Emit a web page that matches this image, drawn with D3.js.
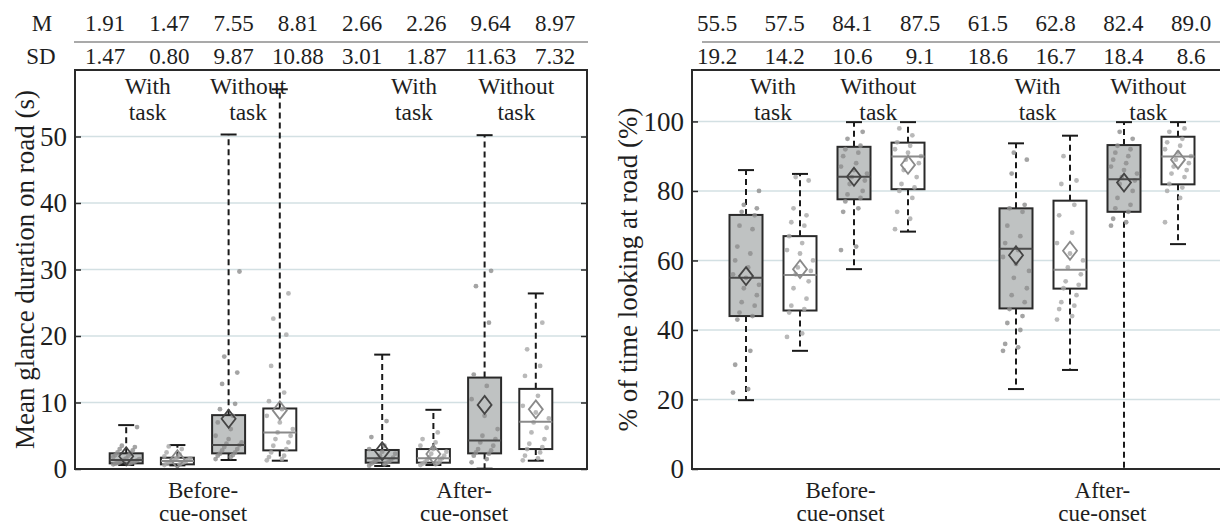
<!DOCTYPE html>
<html>
<head>
<meta charset="utf-8">
<script src="https://cdn.jsdelivr.net/npm/d3@7"></script>
<style>
  body { margin: 0; background: #fff; }
  svg text { font-family: "Liberation Serif", "Times New Roman", serif; fill: #1e1e1e; }
</style>
</head>
<body>
<div id="chart"></div>
<script>
// categories
var phases = [["Before-", "cue-onset"], ["After-", "cue-onset"]];
var conditions = [["With", "task"], ["Without", "task"], ["With", "task"], ["Without", "task"]];
var boxSlots = [1, 2, 3, 4, 6, 7, 8, 9];
var boxKind = ["gray", "white", "gray", "white", "gray", "white", "gray", "white"];

// left panel: mean glance duration on road (s)
var durTicks = [0, 10, 20, 30, 40, 50];
var durMean = [1.91, 1.47, 7.55, 8.81, 2.66, 2.26, 9.64, 8.97];
var durSD = [1.47, 0.80, 9.87, 10.88, 3.01, 1.87, 11.63, 7.32];
var durLow = [0.6, 0.55, 1.35, 1.25, 0.45, 0.6, 0.05, 1.25];
var durQ1 = [0.85, 0.7, 2.35, 2.8, 0.95, 0.95, 2.35, 3.0];
var durMed = [1.35, 1.2, 3.6, 5.5, 1.6, 1.6, 4.3, 7.1];
var durQ3 = [2.36, 1.7, 8.1, 9.1, 2.86, 3.0, 13.75, 12.05];
var durHigh = [6.6, 3.6, 50.3, 57.1, 17.2, 8.9, 50.2, 26.4];
var durDots = [
  [0.7, 0.8, 0.8, 0.9, 0.9, 1.0, 1.0, 1.1, 1.2, 1.3, 1.4, 1.5, 1.6, 1.8, 2.0, 2.1, 2.3, 2.5, 2.8, 3.0, 3.3, 3.5, 6.3],
  [0.6, 0.7, 0.8, 0.9, 1.0, 1.0, 1.1, 1.2, 1.3, 1.4, 1.5, 1.6, 1.7, 1.9, 2.2, 2.5, 3.0, 3.4],
  [1.5, 1.8, 2.0, 2.1, 2.3, 2.5, 2.8, 3.0, 3.3, 3.6, 3.8, 4.0, 4.5, 5.0, 6.0, 7.0, 8.0, 9.0, 9.8, 12.8, 14.5, 16.9, 29.7],
  [1.3, 1.5, 1.8, 2.0, 2.5, 3.0, 3.5, 4.0, 4.5, 5.0, 5.5, 6.0, 7.0, 8.0, 9.0, 10.2, 11.5, 15.5, 20.2, 22.6, 26.4],
  [0.5, 0.7, 0.8, 0.9, 1.0, 1.1, 1.2, 1.3, 1.5, 1.7, 2.0, 2.3, 2.6, 3.0, 3.5, 4.8, 7.2],
  [0.6, 0.7, 0.8, 0.9, 1.0, 1.2, 1.4, 1.6, 1.8, 2.0, 2.3, 2.6, 3.0, 3.5, 4.0, 4.5, 5.5],
  [1.0, 1.5, 2.0, 2.3, 2.5, 2.8, 3.0, 3.5, 4.0, 4.5, 5.0, 6.0, 8.0, 10.5, 12.5, 14.2, 22.0, 27.5, 29.8],
  [1.3, 1.6, 2.0, 2.5, 3.0, 3.3, 3.8, 4.5, 5.5, 6.2, 7.0, 7.6, 8.5, 9.5, 11.0, 14.0, 15.5, 18.0, 22.0]
];

// right panel: % of time looking at road
var pctTicks = [0, 20, 40, 60, 80, 100];
var pctMean = [55.5, 57.5, 84.1, 87.5, 61.5, 62.8, 82.4, 89.0];
var pctSD = [19.2, 14.2, 10.6, 9.1, 18.6, 16.7, 18.4, 8.6];
var pctLow = [19.8, 34.0, 57.5, 68.3, 23.0, 28.5, 0, 64.7];
var pctQ1 = [44.0, 45.6, 77.6, 80.5, 46.2, 51.9, 74.0, 81.9];
var pctMed = [55.0, 55.8, 84.1, 89.9, 63.4, 57.3, 83.4, 89.9];
var pctQ3 = [73.1, 67.0, 92.7, 93.9, 75.0, 77.2, 93.2, 95.6];
var pctHigh = [86.0, 84.9, 99.8, 99.8, 93.7, 95.9, 99.8, 99.8];
var pctDots = [
  [22, 23, 30, 34, 43, 44, 45, 47, 48, 50, 52, 53, 55, 56, 58, 60, 62, 64, 69, 70, 73, 74, 75, 76, 80],
  [38, 39, 45, 46, 47, 49, 52, 54, 56, 57, 58, 60, 62, 63, 65, 67, 70, 71, 73, 75, 83, 84],
  [63, 64, 74, 75, 77, 78, 79, 80, 82, 83, 84, 85, 86, 87, 88, 90, 91, 92, 93, 95, 97],
  [69, 72, 74, 78, 80, 81, 82, 84, 86, 88, 89, 90, 91, 92, 93, 94, 96, 98],
  [34, 35, 36, 40, 42, 44, 46, 48, 50, 52, 55, 57, 59, 61, 63, 65, 67, 70, 74, 75, 76, 85, 89, 91],
  [43, 44, 46, 47, 48, 50, 52, 53, 54, 56, 58, 60, 62, 65, 68, 73, 76, 82, 83, 90],
  [70, 71, 72, 74, 75, 76, 78, 80, 82, 83, 84, 85, 86, 87, 88, 89, 90, 91, 92, 93, 95, 97],
  [71, 78, 80, 81, 82, 84, 85, 86, 87, 88, 89, 90, 91, 92, 93, 94, 95, 97, 98]
];

var width = 1220, height = 527;
var svg = d3.select("#chart").append("svg").attr("width", width).attr("height", height);

function drawPanel(p) {
  var x = d3.scaleLinear().domain([0, 10]).range([p.left, p.right]);
  var y = d3.scaleLinear().domain([0, p.yMax]).range([469, 70]);
  var g = svg.append("g");
  var half = 16.5;

  // table of M and SD
  var col = d3.scaleLinear().domain([0, 7]).range([p.colFirst, p.colLast]);
  g.append("line").attr("x1", p.lineFrom).attr("x2", p.lineTo)
    .attr("y1", 42).attr("y2", 42).attr("stroke", "#8c8c8c").attr("stroke-width", 1.5);
  g.selectAll(".mrow").data(p.mean).join("text")
    .attr("x", function (d, i) { return col(i); }).attr("y", 31)
    .attr("text-anchor", "middle").attr("font-size", "23px")
    .text(function (d) { return p.fmt(d); });
  g.selectAll(".sdrow").data(p.sd).join("text")
    .attr("x", function (d, i) { return col(i); }).attr("y", 64)
    .attr("text-anchor", "middle").attr("font-size", "23px")
    .text(function (d) { return p.fmt(d); });
  if (p.rowLabels) {
    g.append("text").attr("x", 42).attr("y", 31).attr("text-anchor", "middle")
      .attr("font-size", "23px").text("M");
    g.append("text").attr("x", 41).attr("y", 64).attr("text-anchor", "middle")
      .attr("font-size", "23px").text("SD");
  }

  // gridlines
  g.selectAll(".grid").data(p.ticks.filter(function (t) { return t > 0; })).join("line")
    .attr("x1", p.left).attr("x2", p.right)
    .attr("y1", function (d) { return y(d); }).attr("y2", function (d) { return y(d); })
    .attr("stroke", "#d3e0e3").attr("stroke-width", 1.5);

  // whiskers
  var idx = d3.range(8);
  g.selectAll(".wlo").data(idx).join("line")
    .attr("x1", function (i) { return x(boxSlots[i]); }).attr("x2", function (i) { return x(boxSlots[i]); })
    .attr("y1", function (i) { return y(p.q1[i]); }).attr("y2", function (i) { return y(p.low[i]); })
    .attr("stroke", "#1a1a1a").attr("stroke-width", 2).attr("stroke-dasharray", "6,4");
  g.selectAll(".whi").data(idx).join("line")
    .attr("x1", function (i) { return x(boxSlots[i]); }).attr("x2", function (i) { return x(boxSlots[i]); })
    .attr("y1", function (i) { return y(p.q3[i]); }).attr("y2", function (i) { return y(p.high[i]); })
    .attr("stroke", "#1a1a1a").attr("stroke-width", 2).attr("stroke-dasharray", "6,4");
  var caps = idx.map(function (i) { return [i, p.low[i]]; }).concat(idx.map(function (i) { return [i, p.high[i]]; }));
  g.selectAll(".cap").data(caps).join("line")
    .attr("x1", function (d) { return x(boxSlots[d[0]]) - 8; })
    .attr("x2", function (d) { return x(boxSlots[d[0]]) + 8; })
    .attr("y1", function (d) { return y(d[1]); }).attr("y2", function (d) { return y(d[1]); })
    .attr("stroke", "#1a1a1a").attr("stroke-width", 2);

  // boxes
  g.selectAll(".box").data(idx).join("rect")
    .attr("x", function (i) { return x(boxSlots[i]) - half; })
    .attr("width", half * 2)
    .attr("y", function (i) { return y(p.q3[i]); })
    .attr("height", function (i) { return y(p.q1[i]) - y(p.q3[i]); })
    .attr("fill", function (i) { return boxKind[i] === "gray" ? "#bfc2c2" : "#fff"; })
    .attr("stroke", "#2a2a2a").attr("stroke-width", 2);

  // individual points
  idx.forEach(function (i) {
    g.selectAll(".dot" + i).data(p.dots[i]).join("circle")
      .attr("cx", function (d, j) { return x(boxSlots[i]) + ((j * 7) % 13 / 12 - 0.5) * 26; })
      .attr("cy", function (d) { return y(d); })
      .attr("r", 2.4)
      .attr("fill", boxKind[i] === "gray" ? "#8d8d8d" : "#a8a8a8")
      .attr("opacity", 0.8);
  });

  // medians
  g.selectAll(".med").data(idx).join("line")
    .attr("x1", function (i) { return x(boxSlots[i]) - half; })
    .attr("x2", function (i) { return x(boxSlots[i]) + half; })
    .attr("y1", function (i) { return y(p.med[i]); }).attr("y2", function (i) { return y(p.med[i]); })
    .attr("stroke", function (i) { return boxKind[i] === "gray" ? "#4a4a4a" : "#8a8a8a"; })
    .attr("stroke-width", 2);

  // means as diamonds
  g.selectAll(".mean").data(idx).join("path")
    .attr("d", function (i) {
      var cx = x(boxSlots[i]), cy = y(p.mean[i]);
      return "M" + cx + "," + (cy - 9) + "L" + (cx + 7) + "," + cy + "L" + cx + "," + (cy + 9) + "L" + (cx - 7) + "," + cy + "Z";
    })
    .attr("fill", "none")
    .attr("stroke", function (i) { return boxKind[i] === "gray" ? "#444" : "#8a8a8a"; })
    .attr("stroke-width", 1.8);

  // frame and axes
  g.append("rect").attr("x", p.left).attr("y", 70)
    .attr("width", p.right - p.left).attr("height", 399)
    .attr("fill", "none").attr("stroke", "#2a2a2a").attr("stroke-width", 2);
  var yAxis = d3.axisLeft(y).tickValues(p.ticks).tickSize(-6).tickPadding(8);
  var ax = g.append("g").attr("transform", "translate(" + p.left + ",0)").call(yAxis);
  ax.select(".domain").remove();
  ax.selectAll("line").attr("stroke", "#2a2a2a").attr("stroke-width", 1.5);
  ax.selectAll("text").attr("font-size", "27px").attr("font-family", "Liberation Serif").attr("fill", "#1e1e1e");
  var yAxisR = d3.axisRight(y).tickValues(p.ticks).tickSize(-6).tickFormat("");
  var axr = g.append("g").attr("transform", "translate(" + p.right + ",0)").call(yAxisR);
  axr.select(".domain").remove();
  axr.selectAll("line").attr("stroke", "#2a2a2a").attr("stroke-width", 1.5);

  // y-axis title
  g.append("text")
    .attr("transform", "translate(" + p.titleX + "," + (y.range()[0] + y.range()[1]) / 2 + ") rotate(-90)")
    .attr("text-anchor", "middle").attr("dominant-baseline", "central")
    .attr("font-size", "27px").text(p.title);

  // condition labels
  conditions.forEach(function (c, i) {
    var t = g.append("text").attr("text-anchor", "middle").attr("font-size", "23.5px");
    t.append("tspan").attr("x", x(p.condPos[i])).attr("y", 94).text(c[0]);
    t.append("tspan").attr("x", x(p.condPos[i])).attr("y", 120).text(c[1]);
  });

  // phase labels
  phases.forEach(function (c, i) {
    var t = g.append("text").attr("text-anchor", "middle").attr("font-size", "23px");
    t.append("tspan").attr("x", x(p.phasePos[i])).attr("y", 498).text(c[0]);
    t.append("tspan").attr("x", x(p.phasePos[i])).attr("y", 521).text(c[1]);
  });
}

drawPanel({
  left: 75, right: 587, yMax: 60, ticks: durTicks,
  mean: durMean, sd: durSD, low: durLow, q1: durQ1, med: durMed, q3: durQ3, high: durHigh, dots: durDots,
  fmt: d3.format(".2f"), rowLabels: true,
  colFirst: 105, colLast: 555, lineFrom: 74, lineTo: 588,
  title: "Mean glance duration on road (s)", titleX: 25,
  condPos: [1.42, 3.38, 6.62, 8.62], phasePos: [2.5, 7.6]
});

drawPanel({
  left: 692, right: 1232, yMax: 114.8, ticks: pctTicks,
  mean: pctMean, sd: pctSD, low: pctLow, q1: pctQ1, med: pctMed, q3: pctQ3, high: pctHigh, dots: pctDots,
  fmt: d3.format(".1f"), rowLabels: false,
  colFirst: 717, colLast: 1191, lineFrom: 702, lineTo: 1220,
  title: "% of time looking at road (%)", titleX: 628,
  condPos: [1.5, 3.45, 6.4, 8.45], phasePos: [2.75, 7.6]
});
</script>
</body>
</html>
